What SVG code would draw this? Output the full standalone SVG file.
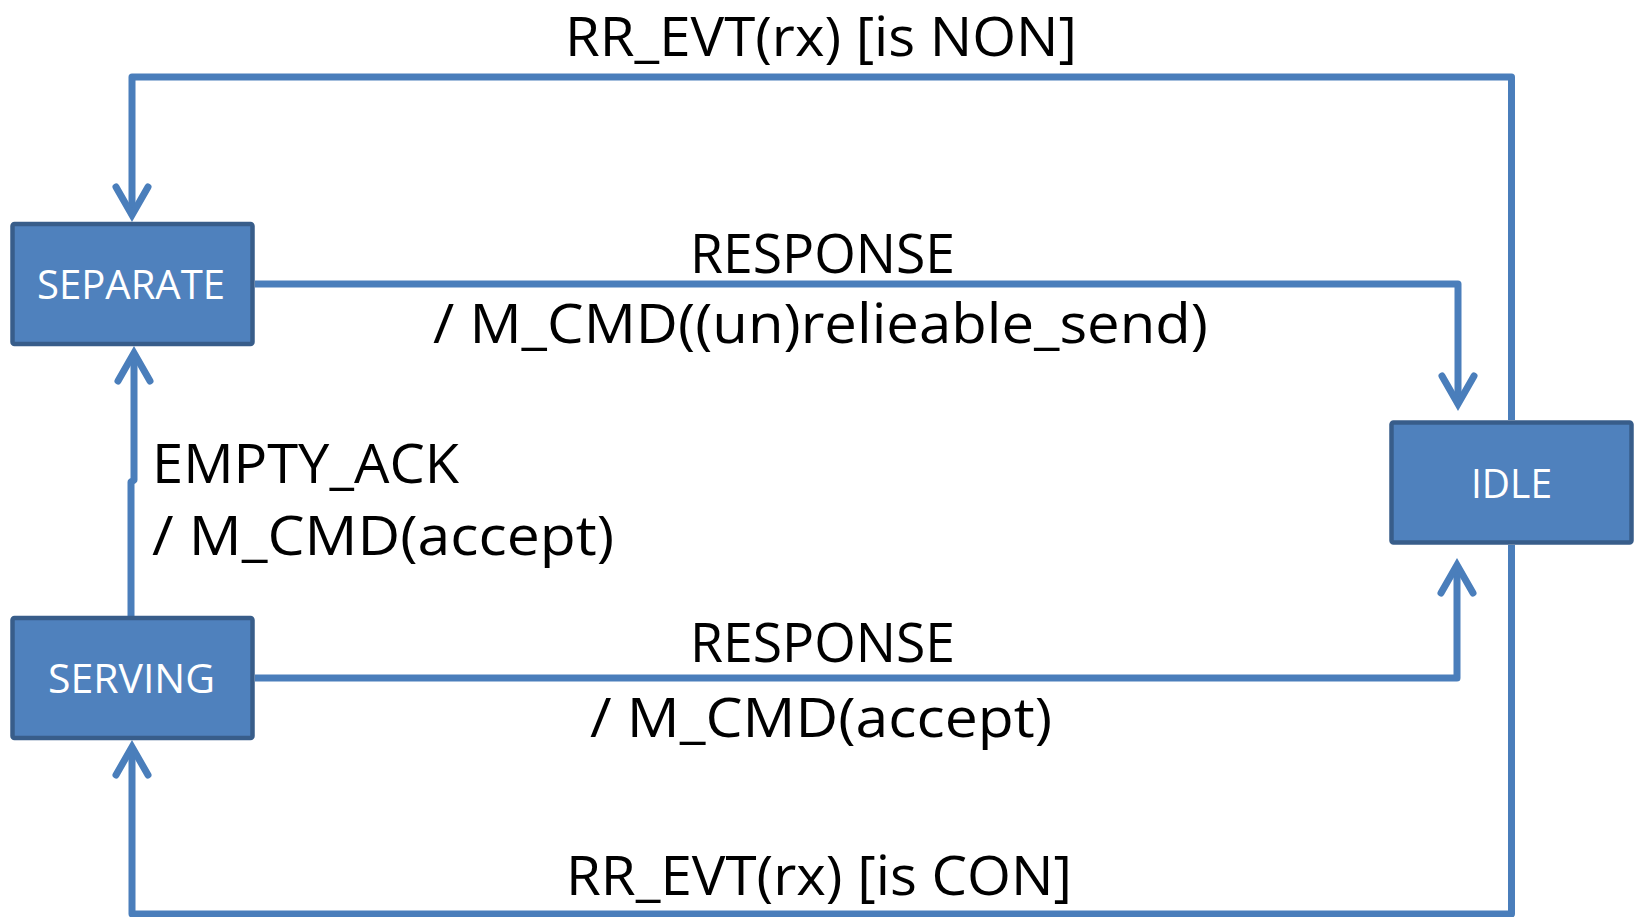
<svg xmlns="http://www.w3.org/2000/svg" width="1634" height="917" viewBox="0 0 1634 917">
  <style>
    .node rect { fill: #4F81BD; stroke: #385D8A; stroke-width: 4.5; }
    .node text { fill: #FFFFFF; font-family: "Open Sans", "Liberation Sans", sans-serif; font-size: 40.5px; text-anchor: middle; }
    .conn { fill: none; stroke: #4A7EBB; stroke-width: 7; stroke-linejoin: round; }
    .lbl { fill: #000000; font-family: "Open Sans", "Liberation Sans", sans-serif; font-size: 54px; }
  </style>
  <defs>
    <marker id="arr" markerUnits="userSpaceOnUse" markerWidth="60" markerHeight="60" viewBox="-45 -30 60 60" refX="0" refY="0" orient="auto" overflow="visible">
      <path d="M-28,-16 L0,0 L-28,16" fill="none" stroke="#4A7EBB" stroke-width="7" stroke-linecap="round" stroke-linejoin="miter" stroke-miterlimit="10"/>
    </marker>
  </defs>
  <rect width="1634" height="917" fill="#FFFFFF"/>

  <g id="connectors">
    <path class="conn" d="M1511.5,420 L1511.5,77 L132,77 L132,215" marker-end="url(#arr)"/>
    <path class="conn" d="M255,284 L1458,284 L1458,404" marker-end="url(#arr)"/>
    <path class="conn" d="M131,616 L131,482 L134,480 L134,353" marker-end="url(#arr)"/>
    <path class="conn" d="M255,678 L1457,678 L1457,565" marker-end="url(#arr)"/>
    <path class="conn" d="M1511.5,545 L1511.5,914 L132,914 L132,747" marker-end="url(#arr)"/>
  </g>

  <g id="labels">
    <text class="lbl" x="565" y="56" font-size="52" textLength="512" lengthAdjust="spacingAndGlyphs">RR_EVT(rx) [is NON]</text>
    <text class="lbl" x="690" y="273" textLength="265" lengthAdjust="spacingAndGlyphs">RESPONSE</text>
    <text class="lbl" x="433" y="343" textLength="775" lengthAdjust="spacingAndGlyphs">/ M_CMD((un)relieable_send)</text>
    <text class="lbl" x="152" y="483" textLength="307" lengthAdjust="spacingAndGlyphs">EMPTY_ACK</text>
    <text class="lbl" x="152" y="555" textLength="462" lengthAdjust="spacingAndGlyphs">/ M_CMD(accept)</text>
    <text class="lbl" x="690" y="662" textLength="265" lengthAdjust="spacingAndGlyphs">RESPONSE</text>
    <text class="lbl" x="590" y="737" textLength="462" lengthAdjust="spacingAndGlyphs">/ M_CMD(accept)</text>
    <text class="lbl" x="566" y="895" textLength="506" lengthAdjust="spacingAndGlyphs">RR_EVT(rx) [is CON]</text>
  </g>

  <g id="SEPARATE" class="node">
    <rect x="12.5" y="224" width="240" height="120" rx="2"/>
    <text x="131" y="299" textLength="188" lengthAdjust="spacingAndGlyphs">SEPARATE</text>
  </g>
  <g id="SERVING" class="node">
    <rect x="12.5" y="618" width="240" height="120" rx="2"/>
    <text x="131.5" y="693" textLength="167" lengthAdjust="spacingAndGlyphs">SERVING</text>
  </g>
  <g id="IDLE" class="node">
    <rect x="1391.5" y="422.5" width="240" height="120" rx="2"/>
    <text x="1511.5" y="498" textLength="81" lengthAdjust="spacingAndGlyphs">IDLE</text>
  </g>
</svg>
